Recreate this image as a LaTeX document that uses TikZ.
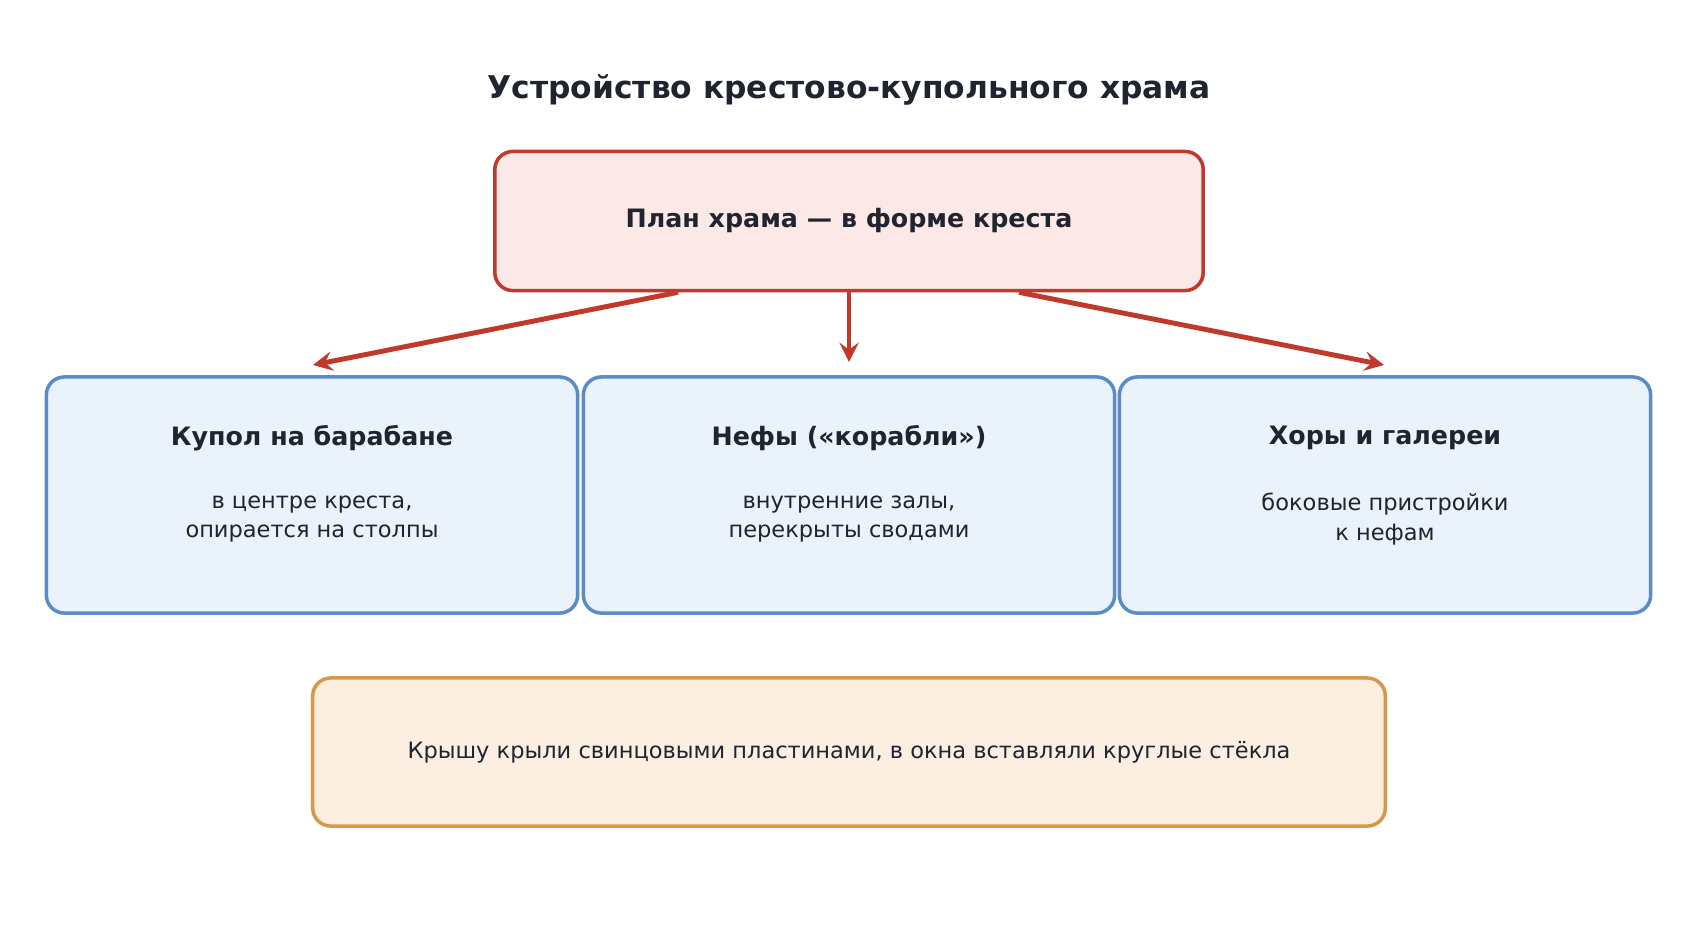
\documentclass[tikz,border=0pt]{standalone}
\usepackage{fontspec}
\setmainfont{DejaVu Sans}
\usetikzlibrary{positioning}
\definecolor{ink}{HTML}{1F2430}
\definecolor{redline}{HTML}{C0392B}
\definecolor{redfill}{HTML}{FCE8E6}
\definecolor{blueline}{HTML}{5B8CC8}
\definecolor{bluefill}{HTML}{EAF2FB}
\definecolor{orline}{HTML}{D9974A}
\definecolor{orfill}{HTML}{FCEFE2}
\tikzset{
  box/.style={rectangle,rounded corners=0.18cm,line width=1pt,inner sep=0pt},
  part/.style={box,draw=blueline,fill=bluefill,minimum width=5.31cm,minimum height=2.36cm},
  head/.style={font=\fontsize{7.2pt}{9pt}\selectfont\bfseries,text=ink},
  body/.style={font=\fontsize{6.4pt}{8.4pt}\selectfont,text=ink,align=center},
  link/.style={draw=redline,line width=1.4pt,-stealth}
}
\begin{document}
\begin{tikzpicture}[x=0.01cm,y=-0.01cm]
\useasboundingbox (0,0) rectangle (1698,948);
\node[font=\fontsize{8.9pt}{10pt}\selectfont\bfseries,text=ink] (title) at (849,90) {Устройство крестово-купольного храма};

\node[box,draw=redline,fill=redfill,minimum width=7.08cm,minimum height=1.39cm] (plan) at (849,221) {};
\node[head] (planh) at (plan) {План храма — в форме креста};

% three parts
\node[part] (dome) at (312,495) {};
\node[part] (nave) at (849,495) {};
\node[part] (choir) at (1385,495) {};
\node[head] (domeh) at (312,438) {Купол на барабане};
\node[body] (domeb) at (312,519) {в центре креста,\\опирается на столпы};
\node[head] (naveh) at (849,438) {Нефы («корабли»)};
\node[body] (naveb) at (849,519) {внутренние залы,\\перекрыты сводами};
\node[head] (choirh) at (1385,438) {Хоры и галереи};
\node[body] (choirb) at (1385,519) {боковые пристройки\\к нефам};

% roof note
\node[box,draw=orline,fill=orfill,minimum width=10.72cm,minimum height=1.48cm] (roof) at (849,752) {};
\node[body] (roofb) at (roof) {Крышу крыли свинцовыми пластинами, в окна вставляли круглые стёкла};

\coordinate (e1) at (313,365);
\coordinate (e2) at (849,362);
\coordinate (e3) at (1384,365);
\draw[link] (plan.south -| 678,0) -- (e1);
\draw[link] (plan.south) -- (e2);
\draw[link] (plan.south -| 1019,0) -- (e3);
\end{tikzpicture}
\end{document}
